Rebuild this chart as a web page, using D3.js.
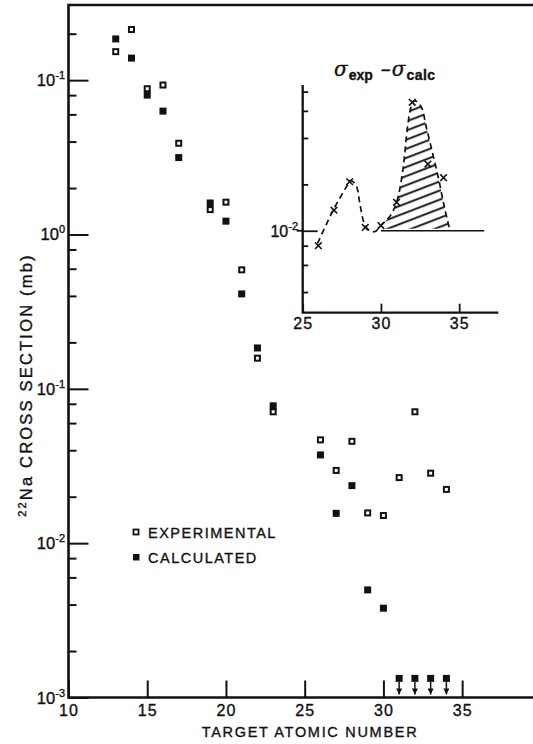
<!DOCTYPE html>
<html><head><meta charset="utf-8">
<script src="https://cdn.jsdelivr.net/npm/d3@7"></script>
<style>
html,body{margin:0;padding:0;background:#fff;}
svg{display:block;}
text{font-family:"Liberation Sans","Arial",sans-serif;fill:#111;stroke:#111;stroke-width:0.35px;}
</style></head>
<body>
<svg id="c" width="533" height="744"></svg>
<script>
// ---------- data ----------
const expZ   = [13, 14, 15, 16, 17, 19, 20, 21, 22, 23, 26, 27, 28, 29, 30, 31, 32, 33, 34];
const expVal = [15.3, 21.3, 8.8, 9.3, 3.9, 1.45, 1.62, 0.59, 0.158, 0.071, 0.0467, 0.0296, 0.0457, 0.0157, 0.0151, 0.0266, 0.071, 0.0284, 0.0223];
const calcZ   = [13, 14, 15, 16, 17, 19, 20, 21, 22, 23, 26, 27, 28, 29, 30];
const calcVal = [18.5, 13.9, 8.0, 6.3, 3.15, 1.6, 1.22, 0.412, 0.184, 0.0776, 0.0373, 0.0156, 0.0236, 0.00498, 0.00379];
const limitZ   = [31, 32, 33, 34];
const limitVal = [0.00133, 0.00133, 0.00133, 0.00133];
const xTicks = [10, 15, 20, 25, 30, 35];
const yMajor = [1e-3, 1e-2, 1e-1, 1e0, 1e1];
const yTickExp = ["-3", "-2", "-1", "0", "-1"];
const legendLabels = ["EXPERIMENTAL", "CALCULATED"];
// inset: sigma_exp - sigma_calc
const insetZ    = [26, 27, 28, 29, 30, 31, 32, 33, 34];
const insetDiff = [0.0080, 0.0136, 0.0208, 0.0105, 0.0108, 0.0153, 0.0682, 0.0271, 0.0221];
const curveZ = [25.95, 26.95, 27.8, 28.05, 28.4, 28.65, 28.86, 29.1, 29.6, 30.0, 30.55, 31.0, 31.4, 31.7, 31.93, 32.14, 32.57, 32.89, 33.3, 33.7, 34.05, 34.4];
const curveV = [0.00828, 0.01361, 0.01932, 0.02113, 0.01982, 0.01507, 0.01175, 0.01038, 0.00986, 0.01084, 0.01233, 0.01528, 0.02477, 0.04732, 0.06383, 0.06982, 0.06383, 0.04732, 0.03184, 0.02138, 0.01432, 0.01012];
const insetXTicks = [25, 30, 35];
const insetBase = 0.01;
const insetBaseEnd = 36.6;

// ---------- scales ----------
const svg = d3.select("#c");
const x = d3.scaleLinear().domain([10, 39.5]).range([68.5, 533]);
const y = d3.scaleLog().domain([1e-3, Math.pow(10, 1.487)]).range([697.5, 5]);
const xi = d3.scaleLinear().domain([25, 37.5]).range([302.7, 498.3]);
const yi = d3.scaleLog().domain([Math.pow(10, -2.532), Math.pow(10, -1.054)]).range([312.7, 85]);

const ink = "#111";
const defs = svg.append("defs");

// ---------- main frame ----------
const L = x(10), B = y(1e-3), T = y.range()[1], R = 533;
svg.append("path").attr("d", `M${R},${T}H${L}V${B}H${R}`)
  .attr("fill", "none").attr("stroke", ink).attr("stroke-width", 2.6);

// y ticks
const yMinor = [];
for (let e = -3; e <= 1; e++) [2, 4, 6, 8].forEach(m => { const v = m * Math.pow(10, e); if (v < y.domain()[1]) yMinor.push(v); });
const gy = svg.append("g").attr("transform", `translate(${L},0)`);
gy.call(d3.axisRight(y).tickValues(yMajor).tickSize(20).tickFormat(""));
gy.call(g => g.select(".domain").remove());
const gy2 = svg.append("g").attr("transform", `translate(${L},0)`);
gy2.call(d3.axisRight(y).tickValues(yMinor).tickSize(8).tickFormat(""));
gy2.call(g => g.select(".domain").remove());
svg.selectAll(".tick line").attr("stroke", ink).attr("stroke-width", 2);

const yl = svg.append("g").selectAll("text").data(yMajor).join("text")
  .attr("x", 65).attr("y", d => y(d) + 6).attr("text-anchor", "end")
  .attr("font-size", 16.5);
yl.append("tspan").text("10");
yl.append("tspan").attr("font-size", 11).attr("dy", -7).text((d, i) => yTickExp[i]);

// x axis
const gx = svg.append("g").attr("transform", `translate(0,${B})`);
gx.call(d3.axisBottom(x).tickValues(xTicks).tickSizeInner(-17).tickSizeOuter(0).tickPadding(7).tickFormat(d3.format("d")));
gx.select(".domain").remove();
gx.selectAll("line").attr("stroke", ink).attr("stroke-width", 2);
gx.selectAll("text").attr("font-size", 16).attr("letter-spacing", 1).attr("font-family", "Liberation Sans, Arial, sans-serif").attr("fill", ink);

// axis titles
svg.append("text").attr("x", 310).attr("y", 737).attr("text-anchor", "middle")
  .attr("font-size", 14.5).attr("letter-spacing", 1.7).text("TARGET ATOMIC NUMBER");
const yt = svg.append("text").attr("transform", "translate(32,385) rotate(-90)")
  .attr("font-size", 16.5).attr("letter-spacing", 2.2);
yt.append("tspan").attr("font-size", 11).attr("dy", -6).text("22");
yt.append("tspan").attr("dy", 6).text("Na CROSS SECTION (mb)");
// center the rotated label on its measured length
const ytLen = yt.node().getComputedTextLength();
yt.attr("x", -ytLen / 2);

// ---------- markers ----------
const S = 7;
svg.append("g").selectAll("rect").data(expZ).join("rect")
  .attr("x", (d) => x(d) - S / 2 + 1).attr("y", (d, i) => y(expVal[i]) - S / 2 + 1)
  .attr("width", S - 2).attr("height", S - 2)
  .attr("fill", "#fff").attr("stroke", ink).attr("stroke-width", 2);
svg.append("g").selectAll("rect").data(calcZ).join("rect")
  .attr("x", d => x(d) - S / 2).attr("y", (d, i) => y(calcVal[i]) - S / 2)
  .attr("width", S).attr("height", S).attr("fill", ink);

// upper limits
defs.append("marker").attr("id", "ah").attr("viewBox", "0 0 10 10")
  .attr("refX", 10).attr("refY", 5).attr("markerWidth", 7).attr("markerHeight", 6)
  .attr("markerUnits", "userSpaceOnUse").attr("orient", "auto")
  .append("path").attr("d", "M0,0L10,5L0,10Z").attr("fill", ink);
const lim = svg.append("g");
lim.selectAll("rect").data(limitZ).join("rect")
  .attr("x", d => x(d) - S / 2).attr("y", (d, i) => y(limitVal[i]) - S / 2)
  .attr("width", S).attr("height", S).attr("fill", ink);
lim.selectAll("line").data(limitZ).join("line")
  .attr("x1", d => x(d)).attr("x2", d => x(d))
  .attr("y1", (d, i) => y(limitVal[i]) + S / 2).attr("y2", B - 3)
  .attr("stroke", ink).attr("stroke-width", 1.5).attr("marker-end", "url(#ah)");

// legend
const lg = svg.append("g");
lg.append("rect").attr("x", 133.5).attr("y", 529.5).attr("width", 5).attr("height", 5)
  .attr("fill", "#fff").attr("stroke", ink).attr("stroke-width", 1.8);
lg.append("rect").attr("x", 133).attr("y", 554).attr("width", 6.5).attr("height", 6.5).attr("fill", ink);
lg.selectAll("text").data(legendLabels).join("text")
  .attr("x", 148).attr("y", (d, i) => 537.5 + i * 25)
  .attr("font-size", 14.5).attr("letter-spacing", 1.5).text(d => d);

// ---------- inset ----------
const iL = xi(25), iB = yi.range()[0], iT = yi.range()[1], iR = xi.range()[1];
svg.append("path").attr("d", `M${iL},${iT}V${iB}H${iR}`)
  .attr("fill", "none").attr("stroke", ink).attr("stroke-width", 2.3);
const iyMinor = [4e-3, 6e-3, 8e-3, 2e-2, 4e-2, 6e-2, 8e-2];
const giy = svg.append("g").attr("transform", `translate(${iL},0)`);
giy.call(d3.axisRight(yi).tickValues(iyMinor).tickSize(5.5).tickFormat(""));
giy.select(".domain").remove();
giy.selectAll("line").attr("stroke", ink).attr("stroke-width", 1.8);
const giy2 = svg.append("g").attr("transform", `translate(${iL},0)`);
giy2.call(d3.axisRight(yi).tickValues([insetBase]).tickSize(15).tickFormat(""));
giy2.select(".domain").remove();
giy2.selectAll("line").attr("stroke", ink).attr("stroke-width", 1.8);
svg.append("line").attr("x1", iL - 6).attr("x2", iL).attr("y1", yi(insetBase)).attr("y2", yi(insetBase))
  .attr("stroke", ink).attr("stroke-width", 1.8);
const il = svg.append("text").attr("x", 298).attr("y", yi(insetBase) + 6).attr("text-anchor", "end").attr("font-size", 16);
il.append("tspan").text("10");
il.append("tspan").attr("font-size", 11).attr("dy", -7).text("-2");

const gix = svg.append("g").attr("transform", `translate(0,${iB})`);
gix.call(d3.axisBottom(xi).tickValues(insetXTicks).tickSizeInner(-9).tickSizeOuter(0).tickPadding(5).tickFormat(d3.format("d")));
gix.select(".domain").remove();
gix.selectAll("line").attr("stroke", ink).attr("stroke-width", 1.8);
gix.selectAll("text").attr("font-size", 16).attr("letter-spacing", 1).attr("font-family", "Liberation Sans, Arial, sans-serif").attr("fill", ink);

// title
const tt = svg.append("text").attr("x", 334).attr("y", 76).attr("font-size", 20);
tt.append("tspan").attr("font-style", "italic").attr("font-family", "DejaVu Serif, serif").text("σ");
tt.append("tspan").attr("font-size", 14).attr("font-weight", "bold").attr("dy", 4).attr("dx", 1).text("exp");
tt.append("tspan").attr("font-size", 17).attr("dy", -4).attr("dx", 8).text("−");
tt.append("tspan").attr("font-style", "italic").attr("font-family", "DejaVu Serif, serif").attr("dx", 1).text("σ");
tt.append("tspan").attr("font-size", 14).attr("font-weight", "bold").attr("dy", 4).attr("dx", 1).attr("letter-spacing", 0.5).text("calc");

// hatched area
const curvePts = curveZ.map((z, i) => [z, curveV[i]]);
defs.append("pattern").attr("id", "hatch").attr("patternUnits", "userSpaceOnUse")
  .attr("width", 40).attr("height", 8.5).attr("patternTransform", "rotate(-21)")
  .append("line").attr("x1", 0).attr("x2", 40).attr("y1", 4).attr("y2", 4)
  .attr("stroke", ink).attr("stroke-width", 1.8);
const hatchPts = curvePts.filter(p => p[0] >= 30.0);
const area = d3.area().curve(d3.curveCatmullRom.alpha(0.5))
  .x(p => xi(p[0])).y0(yi(insetBase)).y1(p => Math.min(yi(p[1]), yi(insetBase)));
defs.append("clipPath").attr("id", "hclip").append("path").attr("d", area(hatchPts));
svg.append("rect").attr("x", xi(30) + 2).attr("y", iT).attr("width", xi(35) - xi(30) - 6).attr("height", yi(insetBase) - iT - 2)
  .attr("fill", "url(#hatch)").attr("clip-path", "url(#hclip)");

// baseline
svg.append("line").attr("x1", xi(30)).attr("x2", xi(insetBaseEnd))
  .attr("y1", yi(insetBase)).attr("y2", yi(insetBase)).attr("stroke", ink).attr("stroke-width", 1.7);

// dashed curve
const line = d3.line().curve(d3.curveCatmullRom.alpha(0.5)).x(p => xi(p[0])).y(p => yi(p[1]));
svg.append("path").attr("d", line(curvePts)).attr("fill", "none")
  .attr("stroke", ink).attr("stroke-width", 1.7).attr("stroke-dasharray", "6,4");

// x markers
svg.append("g").selectAll("path").data(insetZ).join("path")
  .attr("transform", (d, i) => `translate(${xi(d)},${yi(insetDiff[i])})`)
  .attr("d", d3.symbol(d3.symbolTimes, 30)())
  .attr("fill", "none").attr("stroke", ink).attr("stroke-width", 1.6);
</script>
</body></html>
